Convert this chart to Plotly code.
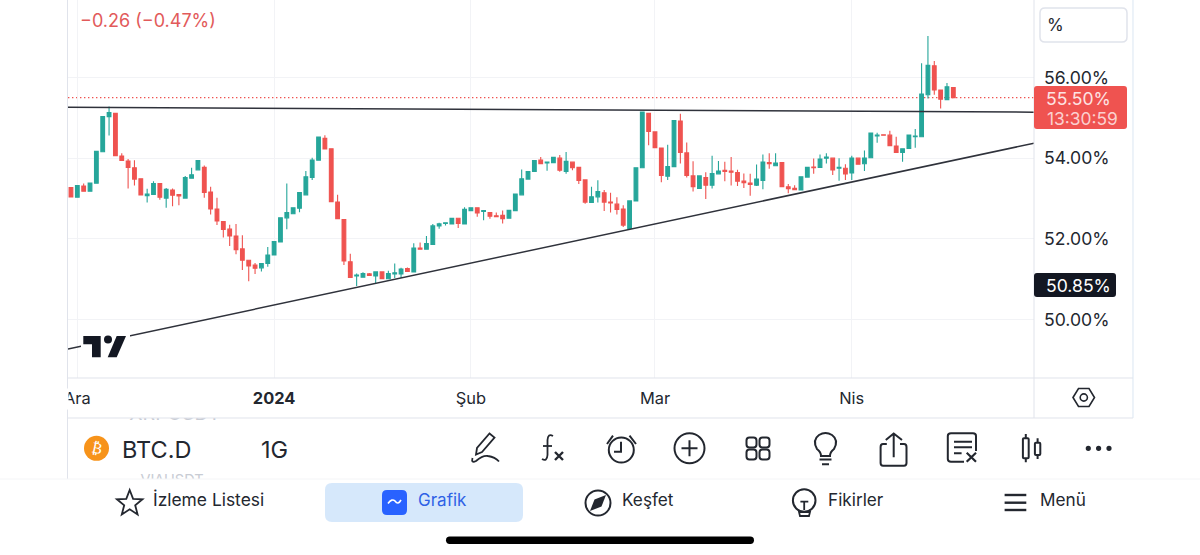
import re
import math
import pandas as pd
import plotly.graph_objects as go

# ---- data -------------------------------------------------------------
start_date = "2023-11-30"
opens = [53.27,53.03,53.31,53.18,53.38,54.16,55.03,55.11,54.05,53.93,53.76,53.49,53.07,53.10,53.37,53.01,53.21,53.10,53.01,53.50,
         53.71,53.77,53.16,52.74,52.43,52.24,52.07,51.75,51.47,51.35,51.28,51.39,51.60,51.92,52.52,52.62,52.76,53.09,53.52,53.95,
         54.49,54.23,52.91,52.48,51.43,51.08,51.05,51.13,51.08,51.18,51.01,51.13,51.13,51.26,51.18,51.77,51.74,51.86,52.32,52.38,
         52.37,52.51,52.37,52.70,52.77,52.68,52.65,52.57,52.58,52.51,52.70,53.09,53.48,53.67,53.95,53.88,53.89,54.00,53.67,53.90,
         53.77,53.46,52.90,53.04,53.14,52.91,52.86,52.74,52.26,52.94,53.76,55.11,54.65,54.25,53.55,53.79,54.92,54.13,53.56,53.25,
         53.52,53.33,53.61,53.70,53.68,53.64,53.43,53.38,53.33,53.45,53.89,53.81,53.89,53.29,53.25,53.21,53.53,53.78,53.77,54.00,
         54.00,53.75,53.75,53.63,54.00,53.86,54.01,54.55,54.58,54.57,54.30,54.14,54.24,54.53,54.53,55.57,56.29,55.69,55.45,55.75]
highs = [53.27,53.32,53.37,53.38,54.17,55.03,55.28,55.11,54.12,53.98,53.95,53.49,53.24,53.43,53.37,53.26,53.25,53.10,53.56,53.76,
         53.94,53.82,53.29,53.02,52.43,52.35,52.37,52.09,51.47,51.40,51.39,51.80,51.93,52.52,53.37,52.77,53.15,53.68,54.01,54.52,
         54.57,54.23,53.09,52.48,51.63,51.14,51.17,51.15,51.18,51.18,51.21,51.39,51.28,51.29,51.89,51.91,52.07,52.37,52.40,52.40,
         52.51,52.51,52.78,52.77,52.77,52.70,52.65,52.65,52.70,52.71,53.11,53.72,53.67,53.94,54.03,53.90,54.02,54.08,54.15,53.90,
         53.77,53.46,53.29,53.45,53.21,53.14,53.03,52.83,52.94,53.76,55.14,55.11,54.65,54.25,54.33,54.93,55.10,54.39,53.92,53.56,
         53.65,54.06,53.93,53.91,54.03,53.71,53.62,53.61,53.84,54.09,54.12,54.12,53.89,53.36,53.33,53.54,53.77,53.99,54.09,54.12,
         54.00,54.00,53.85,54.06,54.00,54.19,54.62,54.63,54.58,54.68,54.53,54.23,54.57,54.72,56.35,57.03,56.41,55.69,55.86,55.75]
lows = [53.04,53.03,53.18,53.18,53.38,54.16,54.56,54.06,53.94,53.25,53.32,53.09,52.90,53.10,52.97,52.77,52.81,52.83,53.01,53.50,
        53.71,53.02,52.60,52.34,52.03,51.82,51.62,51.23,50.95,51.13,51.19,51.31,51.60,51.92,52.24,52.62,52.66,53.09,53.46,53.95,
        54.23,52.92,52.50,51.35,51.04,50.83,51.05,51.09,50.90,51.01,51.01,51.03,51.03,51.19,51.18,51.74,51.74,51.86,52.25,52.33,
        52.37,52.27,52.37,52.70,52.55,52.46,52.50,52.55,52.38,52.51,52.70,53.09,53.48,53.67,53.86,53.69,53.89,53.66,53.61,53.70,
        53.36,52.87,52.90,52.90,52.69,52.65,52.60,52.29,52.26,52.94,53.76,54.32,54.26,53.40,53.46,53.79,53.87,53.52,53.17,53.25,
        52.99,53.25,53.61,53.43,53.32,53.31,53.26,53.07,53.31,53.23,53.74,53.81,53.29,53.13,53.22,53.21,53.53,53.61,53.77,53.87,
        53.58,53.44,53.46,53.46,53.85,53.68,54.01,54.38,54.57,54.31,54.14,53.91,54.24,54.26,54.53,55.48,55.57,55.23,55.45,55.50]
closes = [53.04,53.32,53.18,53.38,54.17,55.03,55.13,54.06,53.94,53.77,53.48,53.09,53.11,53.37,53.03,53.23,53.08,53.06,53.52,53.59,
          53.94,53.15,52.74,52.44,52.23,52.07,51.73,51.47,51.33,51.27,51.39,51.60,51.93,52.52,52.65,52.77,53.15,53.54,53.95,54.52,
          54.23,52.92,52.50,51.45,51.04,51.10,51.14,51.09,51.18,51.01,51.14,51.16,51.25,51.19,51.77,51.74,51.88,52.32,52.37,52.40,
          52.51,52.38,52.73,52.77,52.64,52.70,52.56,52.55,52.50,52.71,53.11,53.49,53.67,53.94,53.86,53.90,54.02,53.70,53.92,53.76,
          53.45,52.91,53.04,53.17,52.91,52.89,52.73,52.34,52.94,53.76,55.14,54.66,54.26,53.57,53.79,54.93,54.14,53.57,53.29,53.56,
          53.33,53.62,53.68,53.67,53.65,53.43,53.39,53.35,53.48,53.90,53.86,53.88,53.29,53.24,53.22,53.54,53.77,53.76,53.98,54.03,
          53.71,53.77,53.61,54.00,53.85,54.00,54.62,54.57,54.57,54.31,54.14,54.23,54.57,54.55,55.59,56.30,55.69,55.46,55.77,55.50]

y_ticks = [50, 52, 54, 56]
y_tick_labels = ["50.00%", "52.00%", "54.00%", "56.00%"]
x_ticks = ["2023-12-01", "2024-01-01", "2024-02-01", "2024-03-01", "2024-04-01"]
x_tick_labels = ["Ara", "<b>2024</b>", "Şub", "Mar", "Nis"]
resistance_dates = ["2023-11-29 12:45", "2024-04-29 17:00"]
resistance_values = [55.26, 55.14]
support_dates = ["2023-11-29 12:45", "2024-04-29 17:00"]
support_values = [49.27, 54.37]
last_price = 55.50
last_price_label = "55.50%"
countdown = "13:30:59"
low_label = "50.85%"
change_label = "−0.26 (−0.47%)"
watchlist_behind = ["XRPUSDT", "VIAUSDT"]

dates = pd.date_range(start_date, periods=len(opens), freq="D")

# ---- colours / layout geometry ----------------------------------------
UP, DOWN = "#26a69a", "#ef5350"
INK = "#131722"
INK2 = "#23272f"
BORDER = "#e0e3eb"
W, H = 1200, 555
AL, AR, AT, AB = 68, 1034, 0, 479   # plotting area (candle pane + hidden strip) in page pixels
PANE_BOTTOM = 378
STRIP_TOP = 418
FONT = "Inter"


def xp(px):
    return (px - AL) / (AR - AL)


def yp(py):
    return (AB - py) / (AB - AT)


def path(d):
    """Turn an SVG path written in page pixels into paper coordinates."""
    toks = re.findall(r"[A-Za-z]|-?\d+\.?\d*", d)
    out, i = [], 0
    for t in toks:
        if t.isalpha():
            out.append(t)
        else:
            out.append(f"{xp(float(t)):.5f}" if i % 2 == 0 else f"{yp(float(t)):.5f}")
            i += 1
    return " ".join(out)


shapes = []


def stroke(d, color=INK2, width=2, fill=None):
    s = dict(type="path", xref="paper", yref="paper", path=path(d), layer="above",
             line=dict(color=color, width=width))
    if fill:
        s["fillcolor"] = fill
    shapes.append(s)


def solid(d, color):
    shapes.append(dict(type="path", xref="paper", yref="paper", path=path(d), layer="above",
                       fillcolor=color, line=dict(width=0)))


def rrect(x0, y0, x1, y1, r):
    return (f"M {x0+r} {y0} L {x1-r} {y0} Q {x1} {y0} {x1} {y0+r} L {x1} {y1-r} Q {x1} {y1} {x1-r} {y1} "
            f"L {x0+r} {y1} Q {x0} {y1} {x0} {y1-r} L {x0} {y0+r} Q {x0} {y0} {x0+r} {y0} Z")


def circle(cx, cy, r, color=INK2, width=2, fill=None):
    s = dict(type="circle", xref="paper", yref="paper", layer="above",
             x0=xp(cx - r), x1=xp(cx + r), y0=yp(cy + r), y1=yp(cy - r),
             line=dict(color=color, width=width))
    if fill:
        s["fillcolor"] = fill
    shapes.append(s)


def hline(x0, x1, y, color=BORDER, width=1):
    stroke(f"M {x0} {y} L {x1} {y}", color, width)


def vline(x, y0, y1, color=BORDER, width=1):
    stroke(f"M {x} {y0} L {x} {y1}", color, width)


annotations = []


def label(px, py, text, size=16, color=INK2, anchor="center", family=FONT, **kw):
    annotations.append(dict(xref="paper", yref="paper", x=xp(px), y=yp(py), text=text, showarrow=False,
                            xanchor=anchor, yanchor="middle", font=dict(size=size, color=color, family=family),
                            borderpad=0, **kw))


def mask(x0, y0, x1, y1):
    annotations.append(dict(xref="paper", yref="paper", x=xp(x0), y=yp(y0), text=" ", showarrow=False,
                            xanchor="left", yanchor="top", width=x1 - x0, height=y1 - y0, bgcolor="#ffffff",
                            borderpad=0, font=dict(size=1)))


# ---- last-price dotted line -------------------------------------------
shapes.append(dict(type="line", xref="x domain", yref="y", x0=0, x1=1, y0=last_price, y1=last_price,
                   line=dict(color=DOWN, width=1.2, dash="1.4px,2.6px"), layer="below"))

# ---- chrome of the chart panel ----------------------------------------
vline(67.5, 0, 479)
vline(1034, 0, 418)
vline(1133, 0, 418, "#dbe6f2")
hline(68, 1133, 378)
hline(68, 1133, 418)
hline(0, 1200, 479, "#f4f5f7")

# TradingView logo on a white patch that interrupts the support line
solid(rrect(81, 333, 130, 361, 0), "#ffffff")
solid("M 83.3 336 L 100.7 336 L 100.7 357.3 L 92 357.3 L 92 344.3 L 83.3 344.3 Z", INK)
circle(108, 339.5, 4, INK, 0, INK)
solid("M 116.7 336 L 126 336 L 116.7 357.3 L 107.7 357.3 Z", INK)

# right-hand price boxes
stroke(rrect(1040, 8, 1127, 42, 5), "#e0e3eb", 1.5, "#ffffff")
solid(rrect(1034, 86, 1127, 129, 3), DOWN)
solid(rrect(1034, 273, 1116, 297, 3), INK)

# hexagon (settings)
stroke("M 1073 397.5 L 1078.5 388.5 L 1089 388.5 L 1094.5 397.5 L 1089 406.5 L 1078.5 406.5 Z", INK2, 1.6)
circle(1083.8, 397.5, 3.6, INK2, 1.6)

# toolbar icons
circle(96.5, 448.3, 12.5, "#f7931a", 0, "#f7931a")
stroke("M 489.5 433.5 L 494.5 437.5 L 482 452 L 476 454.5 L 477 448 Z", INK2, 1.8)
stroke("M 472.5 458 Q 471 463.5 476 461 Q 483 455 488 456 Q 495 457 499 461.5", INK2, 1.8)
stroke("M 553 436 Q 548 433 547.5 440 L 547.5 455 Q 547 462 542 459", INK2, 1.8)
stroke("M 543 446 L 552 446", INK2, 1.8)
stroke("M 555 452 L 563 460 M 563 452 L 555 460", INK2, 2.4)
circle(621.3, 450, 12.5)
stroke("M 607 444 L 613 435.7 M 629.5 435.7 L 636 444", INK2, 2)
stroke("M 621 441.7 L 621 451.7 L 614 451.7", INK2, 2)
circle(689.5, 448.3, 15)
stroke("M 681.5 448.3 L 697.5 448.3 M 689.5 440.3 L 689.5 456.3", INK2, 2)
for gx in (746.5, 759.5):
    for gy in (437.5, 449.5):
        stroke(rrect(gx, gy, gx + 10, gy + 10, 3), INK2, 2)
stroke("M 821 456 L 830 456 Q 830 452 834 449 Q 839 440 832 435 Q 825.5 431 819 435 Q 812 440 817 449 Q 821 452 821 456 Z", INK2, 2)
stroke("M 819.5 459.5 L 831.5 459.5 M 822 464.3 L 829 464.3", INK2, 2)
stroke("M 886.8 444 L 883 444 Q 880.6 444 880.6 447 L 880.6 463 Q 880.6 465.7 883 465.7 L 904 465.7 Q 906.5 465.7 906.5 463 L 906.5 447 Q 906.5 444 904 444 L 900 444", INK2, 2)
stroke("M 893.7 457.3 L 893.7 433.8 M 885.8 440 L 893.7 433.5 L 902 440", INK2, 2)
stroke("M 976 451 L 976 436 Q 976 433.3 973 433.3 L 951 433.3 Q 947.8 433.3 947.8 436 L 947.8 459 Q 947.8 461.7 951 461.7 L 964 461.7", INK2, 2)
stroke("M 954 441.7 L 972 441.7 M 954 447.3 L 972 447.3 M 954 453.3 L 961.6 453.3", INK2, 2)
stroke("M 966.7 452.7 L 976 461.7 M 976 452.7 L 966.7 461.7", INK2, 2.2)
stroke(rrect(1022.9, 438.3, 1028.7, 458.3, 1), INK2, 2)
stroke("M 1025.8 434 L 1025.8 438.3 M 1025.8 458.3 L 1025.8 462.3", INK2, 2)
stroke(rrect(1034.9, 442.7, 1040.3, 455, 1), INK2, 2)
stroke("M 1037.6 438.3 L 1037.6 442.7 M 1037.6 455 L 1037.6 459", INK2, 2)
for cx in (1088.3, 1098.6, 1109):
    circle(cx, 448.3, 2.6, INK2, 0, INK2)

# bottom navigation icons
solid(rrect(325, 483, 523, 522, 7), "#d6e8fb")
solid(rrect(382, 490, 407, 515, 5), "#2962ff")
stroke("M 388 503.5 Q 392 498 395 501 Q 398 505.5 401 500", "#ffffff", 1.6)
star_pts = []
for i in range(10):
    r = 13.5 if i % 2 == 0 else 5.8
    a = -math.pi / 2 + i * math.pi / 5
    star_pts.append((129.7 + r * math.cos(a), 503.5 + r * math.sin(a)))
stroke("M " + " L ".join(f"{x:.1f} {y:.1f}" for x, y in star_pts) + " Z", INK2, 1.8)
circle(598, 503, 12.5)
solid("M 606 495 L 601.5 506.5 L 590 511 L 594.5 499.5 Z", INK2)
circle(804.2, 500.5, 11.3)
stroke("M 800.4 501.7 L 808.3 501.7 M 804.2 501.7 L 804.2 510", INK2, 1.8)
stroke("M 799 512 L 810 512 L 809 516 L 800 516 Z", INK2, 1.8)
for my in (495, 502.7, 510):
    hline(1004.6, 1026.3, my, INK2, 2.4)
solid(rrect(446, 536.5, 754, 544, 3.7), "#000000")

# ---- text -------------------------------------------------------------
label(79, 20, change_label, size=18, color="#e25a5a", anchor="left")
label(1046, 25, "%", size=17, color=INK2, anchor="left")
label(1045, 98, last_price_label, size=17.6, color="#fde3e3", anchor="left")
label(1046, 118, countdown, size=17.4, color="#fbd0cf", anchor="left")
label(1045, 285, low_label, size=17.6, color="#ffffff", anchor="left")
mask(60, 388, 66.8, 408)
label(96.5, 448.3, "₿", size=15, color="#ffffff", family="DejaVu Sans", textangle=12)
label(121, 449, "BTC.D", size=23.5, color=INK2, anchor="left")
label(260, 449, "1G", size=23.5, color=INK2, anchor="left")
label(152, 499.5, "İzleme Listesi", size=17.4, color=INK2, anchor="left")
label(417, 499.5, "Grafik", size=17, color="#2f62e6", anchor="left")
label(621, 499.5, "Keşfet", size=17.2, color=INK2, anchor="left")
label(827, 499.5, "Fikirler", size=17.2, color=INK2, anchor="left")
label(1038.5, 499.5, "Menü", size=17.2, color=INK2, anchor="left")

# ---- figure -----------------------------------------------------------
fig = go.Figure()
fig.add_trace(go.Candlestick(
    x=dates, open=opens, high=highs, low=lows, close=closes,
    increasing=dict(line=dict(color=UP, width=1.1), fillcolor=UP),
    decreasing=dict(line=dict(color=DOWN, width=1.1), fillcolor=DOWN),
    showlegend=False, hoverinfo="skip"))
fig.add_trace(go.Scatter(x=resistance_dates, y=resistance_values, mode="lines",
                         line=dict(color="#2f323b", width=1.5), showlegend=False, hoverinfo="skip"))
fig.add_trace(go.Scatter(x=support_dates, y=support_values, mode="lines",
                         line=dict(color="#2f323b", width=1.5), showlegend=False, hoverinfo="skip"))
# watch-list rows scrolling behind the toolbar: real text, clipped by a hidden strip of axes
fig.add_trace(go.Scatter(x=[175], y=[415.5], mode="text", text=watchlist_behind[:1],
                         textfont=dict(size=19.5, color="#c8ccd4", family=FONT), textposition="middle center",
                         cliponaxis=True, xaxis="x2", yaxis="y2", showlegend=False, hoverinfo="skip"))
fig.add_trace(go.Scatter(x=[172], y=[481], mode="text", text=watchlist_behind[1:],
                         textfont=dict(size=14.5, color="#c8ccd4", family=FONT), textposition="middle center",
                         cliponaxis=True, xaxis="x2", yaxis="y2", showlegend=False, hoverinfo="skip"))

fig.update_layout(
    width=W, height=H, autosize=False,
    margin=dict(l=AL, r=W - AR, t=AT, b=H - AB, pad=0),
    paper_bgcolor="#ffffff", plot_bgcolor="rgba(0,0,0,0)",
    font=dict(family=FONT, color=INK2),
    boxgap=0.16,
    shapes=shapes, annotations=annotations,
    xaxis=dict(type="date", domain=[0, 1], anchor="y", range=resistance_dates,
               rangeslider=dict(visible=False),
               tickmode="array", tickvals=x_ticks, ticktext=x_tick_labels, ticks="",
               tickfont=dict(size=16.4, color=INK2, family=FONT), showgrid=True, gridcolor="#f2f3f6",
               gridwidth=1, showline=False, zeroline=False, ticklabelstandoff=9),
    yaxis=dict(domain=[yp(PANE_BOTTOM), 1], anchor="x", side="right", range=[48.55, 57.92],
               tickmode="array", tickvals=y_ticks, ticktext=y_tick_labels,
               ticks="", tickfont=dict(size=17.6, color=INK2, family=FONT), showgrid=True, gridcolor="#f2f3f6",
               gridwidth=1, showline=False, zeroline=False, ticklabelstandoff=9),
    xaxis2=dict(domain=[0, 1], anchor="y2", range=[AL, AR], visible=False, fixedrange=True),
    yaxis2=dict(domain=[0, yp(STRIP_TOP)], anchor="x2", range=[AB, STRIP_TOP], visible=False, fixedrange=True),
)

fig.write_html("out.html", config=dict(displayModeBar=False),
               post_script="document.body.style.margin='0';document.body.style.overflow='hidden';")
